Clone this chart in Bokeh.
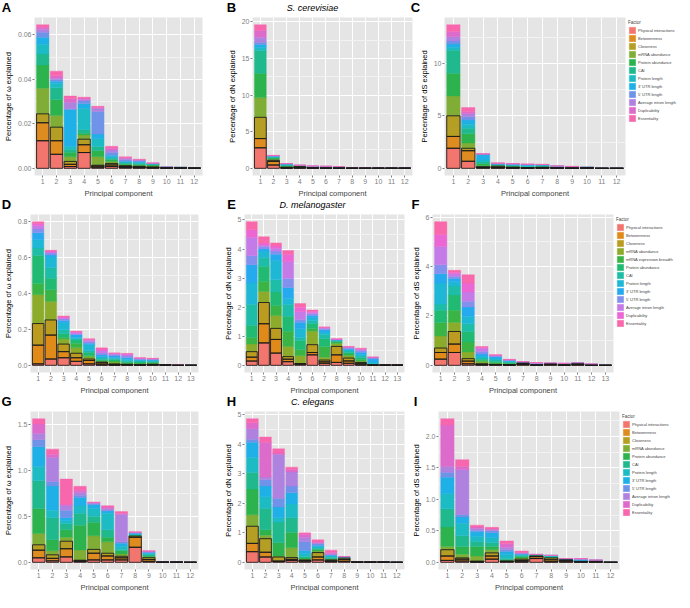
from bokeh.plotting import figure
from bokeh.layouts import row, column
from bokeh.models import (Range1d, FixedTicker, Legend, LegendItem, Title,
                          ColumnDataSource)
from bokeh.core.properties import value
from bokeh.embed import file_html
from bokeh.resources import INLINE

FACTORS_12 = ["Physical interactions", "Betweenness", "Closeness", "mRNA abundance",
              "Protein abundance", "CAI", "Protein length", "3' UTR length",
              "5' UTR length", "Average intron length", "Duplicability", "Essentiality"]
FACTORS_13 = ["Physical interactions", "Betweenness", "Closeness", "mRNA abundance",
              "mRNA expression breadth", "Protein abundance", "CAI", "Protein length",
              "3' UTR length", "5' UTR length", "Average intron length", "Duplicability",
              "Essentiality"]
COLORS_12 = ["#F2766E", "#DE8B1F", "#B59E24", "#80AD35", "#2DB34E", "#1FB98D",
             "#1DBBC4", "#1EB0E6", "#6E93E8", "#AF82E0", "#DD6BCB", "#F867AE"]
COLORS_13 = ["#F2766E", "#E08A1A", "#BC9C20", "#8CAB2A", "#3AB545", "#20BA72",
             "#1DBDA8", "#1EB8D6", "#25AAF0", "#8391EE", "#C47BE8", "#EC66D4", "#F968AA"]

# ---- S. cerevisiae (12 factors, one row per principal component) ----
omega_sc = [
    [.0124, .0081, .0040, .0115, .0105, .0049, .0044, .0031, .0023, .0014, .0008, .0012],
    [.0063, .0061, .0061, .0053, .0072, .0052, .0019, .0011, .0007, .0006, .0011, .0021],
    [.0008, .0010, .0013, .0021, .0020, .0014, .0013, .0164, .0006, .0028, .0016, .0012],
    [.0071, .0035, .0025, .0019, .0008, .0016, .0095, .0021, .0013, .0007, .0006, .0004],
    [.0005, .0005, .0004, .0038, .0027, .0018, .0036, .0021, .0102, .0013, .0006, .0004],
    [.0008, .0007, .0007, .0009, .0007, .0007, .0007, .0007, .0013, .0010, .0008, .0009],
    [.0004, .0004, .0004, .0004, .0004, .0004, .0004, .0004, .0006, .0006, .0004, .0004],
    [.0003, .0003, .0003, .0004, .0004, .0005, .0005, .0004, .0003, .0003, .0002, .0002],
    [.0002, .0002, .0002, .0004, .0005, .0003, .0002, .0001, .0001, .0001, .0001, 0],
    [.0001, .0001, .0001, .0001, .0001, 0, 0, 0, 0, 0, 0, 0],
    [.0001, .0001, .0001, .0001, 0, 0, 0, 0, 0, 0, 0, 0],
    [.00005, .00005, .00005, .00005, 0, 0, 0, 0, 0, 0, 0, 0],
]
dn_sc = [
    [2.8, 1.26, 2.9, 2.69, 3.31, 3.11, .43, .4, .3, .7, .9, .8],
    [.45, .5, .15, .15, .15, .12, .08, .05, .04, .03, .03, .03],
    [.03, .05, .08, .05, .15, .1, .05, .08, .03, .02, .01, .01],
    [.05, .08, .1, .05, .04, .03, .03, .02, .01, .01, .01, .02],
    [.02, .03, .05, .03, .03, .03, .03, .03, .04, .02, .01, .01],
    [.01, .02, .03, .02, .02, .04, .05, .04, .03, .01, .01, .01],
    [.01, .02, .02, .02, .02, .03, .03, .02, .03, .03, .01, .01],
    [.01, .01, .01, .01, .01, .01, .01, .01, .01, .01, .01, .01],
    [.01, .01, .01, .01, .01, .01, .01, .01, 0, 0, 0, 0],
    [.01, .01, .01, .01, 0, 0, 0, 0, 0, 0, 0, 0],
    [.01, .01, .01, .01, 0, 0, 0, 0, 0, 0, 0, 0],
    [.01, .01, .01, .01, 0, 0, 0, 0, 0, 0, 0, 0],
]
ds_sc = [
    [1.91, 1.13, 1.97, 1.89, 2.17, 2.18, .3, .3, .3, .4, .5, .65],
    [.67, 1.01, .23, .5, .9, .5, .4, .4, .3, .3, .2, .39],
    [.05, .05, .05, .1, .2, .15, .2, .5, .05, .02, .01, .01],
    [.05, .05, .1, .05, .05, .04, .04, .04, .03, .02, .02, .03],
    [.03, .03, .05, .05, .05, .05, .05, .05, .05, .02, .02, .01],
    [.02, .02, .02, .03, .03, .05, .1, .05, .04, .02, .02, .01],
    [.02, .04, .04, .02, .02, .1, .05, .04, .02, .01, .01, .01],
    [.02, .02, .02, .02, .03, .05, .03, .01, .01, .01, .005, .005],
    [.01, .01, .01, .01, .01, .02, .02, .02, .02, .03, .02, .01],
    [.02, .02, .02, .01, .01, .01, 0, 0, 0, 0, 0, 0],
    [0, 0, 0, 0, 0, 0, 0, 0, 0, 0, 0, 0],
    [0, 0, 0, 0, 0, 0, 0, 0, 0, 0, 0, 0],
]

# ---- D. melanogaster (13 factors) ----
omega_dm = [
    [.008, .104, .12, .16, .062, .156, .042, .045, .039, .022, .017, .013, .010],
    [.035, .133, .084, .103, .065, .064, .059, .059, .011, .011, .006, .005, .004],
    [.042, .034, .042, .027, .011, .02, .022, .039, .012, .008, .007, .005, .005],
    [.022, .02, .025, .03, .026, .017, .008, .008, .014, .006, .005, .006, .003],
    [.008, .019, .008, .012, .008, .017, .009, .033, .009, .008, .008, .005, .004],
    [.003, .01, .005, .004, .004, .006, .008, .008, .01, .01, .012, .01, .007],
    [.002, .002, .004, .01, .006, .008, .006, .006, .008, .008, .005, .002, .002],
    [.002, .002, .002, .004, .004, .006, .006, .008, .008, .01, .008, .004, .002],
    [.001, .001, .003, .004, .004, .006, .005, .004, .004, .004, .003, .002, .001],
    [.002, .002, .002, .004, .004, .005, .004, .004, .004, .003, .002, .002, .001],
    [.001, .001, .001, .001, 0, 0, 0, 0, 0, 0, 0, 0, 0],
    [0, 0, 0, 0, 0, 0, 0, 0, .0015, .0015, 0, 0, 0],
    [0, 0, 0, 0, 0, 0, 0, 0, 0, 0, 0, 0, 0],
]
dn_dm = [
    [.146, .134, .19, .26, .23, .42, .72, .73, .63, .31, .63, .26, .28],
    [.77, .66, .73, .38, .35, .52, .31, .21, .07, .08, .06, .07, .21],
    [.42, .47, .38, .44, .34, .47, .42, .67, .21, .11, .1, .07, .11],
    [.125, .085, .09, .35, .52, .52, .41, .21, .37, .31, .57, .26, .13],
    [.04, .01, .01, .27, .21, .31, .11, .31, .21, .1, .26, .16, .125],
    [.36, .08, .27, .46, .1, .16, .1, .11, .07, .06, .05, .04, .04],
    [.07, .05, .06, .1, .37, .26, .15, .09, .07, .05, .02, .02, .01],
    [.1, .26, .29, .1, .05, .03, .02, .01, .015, .01, .01, .01, .005],
    [.07, .08, .10, .08, .06, .05, .05, .05, .03, .03, .02, .02, .01],
    [.02, .05, .03, .04, .06, .06, .06, .06, .07, .06, .03, .03, .02],
    [.005, .005, .005, .01, .01, .01, .02, .05, .1, .05, .01, .005, .005],
    [.005, .005, .005, .005, 0, 0, 0, 0, 0, 0, 0, 0, 0],
    [.005, .005, .005, .005, 0, 0, 0, 0, 0, 0, 0, 0, 0],
]
ds_dm = [
    [.25, .27, .18, .49, .55, .49, .25, .86, .37, .36, .74, .49, .52],
    [.52, .34, .51, .37, .49, .62, .36, .19, .12, .09, .1, .06, .08],
    [.06, .11, .1, .27, .4, .43, .31, .31, .37, .24, .37, .37, .33],
    [.02, .02, .02, .08, .06, .05, .05, .08, .08, .1, .12, .05, .03],
    [.02, .01, .01, .03, .04, .05, .06, .08, .05, .03, .02, .02, .01],
    [.01, .01, .01, .02, .03, .03, .03, .04, .02, .01, .01, .015, .01],
    [.03, .04, .02, .01, .005, .005, .005, .005, .005, .005, .005, .005, .005],
    [.005, .005, .005, .005, .005, .01, .01, .01, .01, .02, .01, .01, .005],
    [.02, .02, .01, .005, .005, .005, .005, .005, .005, .005, .005, 0, 0],
    [.005, .005, .005, .01, .01, .01, .01, .01, .005, .005, .005, 0, 0],
    [.02, .02, .02, .01, .01, .005, .005, 0, 0, 0, 0, 0, 0],
    [0, 0, 0, .005, .005, .005, .01, .01, .01, .005, 0, 0, 0],
    [0, 0, 0, 0, 0, 0, 0, 0, 0, 0, 0, 0, 0],
]

# ---- C. elegans (12 factors) ----
omega_ce = [
    [.049, .083, .059, .122, .273, .302, .158, .214, .076, .072, .099, .059],
    [.016, .027, .039, .043, .122, .24, .082, .263, .05, .263, .033, .056],
    [.059, .089, .082, .043, .082, .066, .033, .033, .082, .049, .017, .273],
    [.01, .006, .007, .112, .27, .13, .08, .09, .025, .03, .025, .044],
    [.026, .073, .042, .148, .149, .065, .083, .042, .013, .007, .004, .006],
    [.026, .043, .03, .125, .049, .082, .181, .023, .01, .017, .016, .016],
    [.026, .023, .017, .026, .033, .016, .033, .033, .017, .296, .016, .017],
    [.164, .109, .013, .007, .003, .003, .007, .01, .006, .004, .003, .003],
    [.01, .02, .02, .01, .01, .015, .01, .01, .01, .005, .003, .002],
    [.001, .001, .001, .001, .001, 0, 0, 0, 0, 0, 0, 0],
    [.001, .001, .001, .001, .001, 0, 0, 0, 0, 0, 0, 0],
    [0, 0, 0, 0, 0, 0, 0, 0, 0, 0, 0, 0],
]
dn_ce = [
    [.36, .28, .58, .39, .87, .56, .51, .51, .1, .36, .2, .14],
    [.18, .16, .46, .12, .18, .72, .4, .36, .21, .1, 1.17, .18],
    [.03, .01, .14, .03, .45, .7, .15, .36, .3, 1.48, .05, .14],
    [.06, .04, .06, .33, .53, .49, .46, .38, .23, .48, .08, .08],
    [.04, .02, .02, .03, .04, .05, .1, .1, .3, .15, .1, .05],
    [.08, .1, .15, .05, .05, .05, .05, .05, .05, .03, .03, .07],
    [.03, .02, .03, .02, .02, .05, .04, .03, .02, .03, .05, .07],
    [.03, .06, .05, .01, .01, .01, .005, .005, .005, .005, 0, 0],
    [.005, .005, .005, .005, 0, 0, 0, 0, 0, 0, 0, 0],
    [.005, .005, .005, .005, 0, 0, 0, 0, 0, 0, 0, 0],
    [.005, .005, .005, .005, 0, 0, 0, 0, 0, 0, 0, 0],
    [0, 0, 0, 0, 0, 0, 0, 0, 0, 0, 0, 0],
]
ds_ce = [
    [.03, .07, .10, .05, .31, .29, .24, .26, .08, .09, .66, .10],
    [.02, .03, .02, .06, .12, .17, .2, .1, .04, .71, .05, .11],
    [.005, .005, .01, .08, .15, .08, .08, .08, .02, .03, .02, .03],
    [.05, .05, .05, .05, .05, .06, .08, .08, .03, .02, .01, .025],
    [.01, .005, .005, .01, .01, .02, .06, .05, .03, .04, .06, .04],
    [.01, .02, .02, .02, .02, .02, .01, .01, .01, .01, .005, .025],
    [.06, .03, .01, .005, .005, .005, .005, 0, .005, 0, 0, 0],
    [.01, .03, .03, .005, .005, .01, .01, .01, 0, 0, 0, 0],
    [.01, .02, .01, .005, .005, 0, 0, 0, .005, .005, 0, 0],
    [.005, .005, .005, 0, 0, .01, 0, .01, .01, .015, 0, 0],
    [.005, .005, .005, 0, 0, 0, .01, .01, 0, 0, 0, 0],
    [0, 0, 0, 0, 0, 0, 0, 0, 0, 0, 0, 0],
]

# y tick values and their labels per panel
ticks_A, labels_A = [0, 0.02, 0.04, 0.06], ["0.00", "0.02", "0.04", "0.06"]
ticks_B, labels_B = [0, 5, 10, 15, 20], ["0", "5", "10", "15", "20"]
ticks_C, labels_C = [0, 5, 10], ["0", "5", "10"]
ticks_D, labels_D = [0, 0.2, 0.4, 0.6, 0.8], ["0.0", "0.2", "0.4", "0.6", "0.8"]
ticks_E, labels_E = [0, 1, 2, 3, 4, 5], ["0", "1", "2", "3", "4", "5"]
ticks_F, labels_F = [0, 2, 4, 6], ["0", "2", "4", "6"]
ticks_G, labels_G = [0, 0.5, 1.0, 1.5], ["0.0", "0.5", "1.0", "1.5"]
ticks_H, labels_H = [0, 1, 2, 3, 4, 5], ["0", "1", "2", "3", "4", "5"]
ticks_I, labels_I = [0, 0.5, 1.0, 1.5, 2.0], ["0.0", "0.5", "1.0", "1.5", "2.0"]

PANEL_LETTERS = [["A", "B", "C"], ["D", "E", "F"], ["G", "H", "I"]]
SPECIES = ["S. cerevisiae", "D. melanogaster", "C. elegans"]
YLAB_W = "Percentage of \u03c9 explained"
YLAB_N = "Percentage of dN explained"
YLAB_S = "Percentage of dS explained"
XLAB = "Principal component"
FONT = "Liberation Sans"

TOTAL_W = 674
HEAD_H = 14
FRAME_H = 158
COLS = [dict(fw=168, bl=28, br=22), dict(fw=160, bl=24, br=4), dict(fw=181, bl=24, br=2)]
LETTER_CX = [6, 231, 415]     # page x of the centres of the panel letters
SPECIES_CX = 312              # page x of the centre of the species name


def header(ri):
    h = figure(width=TOTAL_W, height=HEAD_H, x_range=Range1d(0, TOTAL_W),
               y_range=Range1d(0, HEAD_H), output_backend="svg", title=None,
               toolbar_location=None, x_axis_location=None, y_axis_location=None,
               min_border=0, min_border_left=0, min_border_right=0,
               min_border_top=0, min_border_bottom=0)
    h.grid.visible = False
    h.outline_line_color = None
    h.text(x=LETTER_CX, y=[HEAD_H / 2] * 3, text=PANEL_LETTERS[ri],
           text_font=value(FONT), text_font_style="bold", text_font_size="13px",
           text_align="center", text_baseline="middle", text_color="black")
    h.text(x=[SPECIES_CX], y=[HEAD_H / 2], text=[SPECIES[ri]], text_font=value(FONT),
           text_font_style="italic", text_font_size="9px", text_align="center",
           text_baseline="middle", text_color="black")
    return h


def panel(vals, factors, colors, ticks, tlabels, ylabel, ci, legend=False):
    c = COLS[ci]
    n = len(vals)
    data = {"pc": list(range(1, n + 1))}
    for j, f in enumerate(factors):
        data[f] = [bar[j] for bar in vals]
    src = ColumnDataSource(data)
    ymax = max(sum(b) for b in vals)
    p = figure(frame_width=c["fw"], frame_height=FRAME_H,
               x_range=Range1d(0.4, n + 0.6),
               y_range=Range1d(-0.05 * ymax, 1.05 * ymax),
               output_backend="svg", toolbar_location=None, title=None,
               min_border_left=c["bl"], min_border_right=c["br"],
               min_border_top=3, min_border_bottom=2)
    p.background_fill_color = "#E5E5E5"
    p.outline_line_color = None
    rs = p.vbar_stack(factors, x="pc", width=0.9, source=src,
                      fill_color=colors, line_color=colors, line_width=0.4)
    p.vbar_stack(factors[:3], x="pc", width=0.9, source=src,
                 fill_color=None, line_color="#1c1c1c", line_width=0.9)
    step = ticks[1] - ticks[0]
    minors = [t + step / 2 for t in ticks] + [ticks[0] - step / 2]
    p.yaxis.ticker = FixedTicker(ticks=ticks, minor_ticks=minors)
    p.yaxis.major_label_overrides = {t: l for t, l in zip(ticks, tlabels)}
    p.xaxis.ticker = FixedTicker(ticks=list(range(1, n + 1)))
    p.xgrid.grid_line_color = "white"
    p.ygrid.grid_line_color = "white"
    p.ygrid.minor_grid_line_color = "#F2F2F2"
    p.yaxis.axis_label = ylabel
    for ax in (p.xaxis, p.yaxis):
        ax.axis_line_color = None
        ax.major_tick_line_color = "#7F7F7F"
        ax.major_tick_out = 2
        ax.major_tick_in = 0
        ax.minor_tick_out = 0
        ax.minor_tick_in = 0
        ax.major_label_text_color = "#7F7F7F"
        ax.major_label_text_font_size = "7px"
        ax.major_label_text_font = FONT
        ax.major_label_standoff = 1
        ax.axis_label_text_font_size = "7.5px"
        ax.axis_label_text_font_style = "normal"
        ax.axis_label_text_font = FONT
        ax.axis_label_text_color = "black"
        ax.axis_label_standoff = 2
    p.add_layout(Title(text=XLAB, align="center", standoff=0, text_font=FONT,
                       text_font_size="7.5px", text_font_style="normal"), "below")
    if legend:
        items = [LegendItem(label=f, renderers=[rr]) for f, rr in zip(factors, rs)]
        lg = Legend(items=items, title="Factor", location="top_left")
        lg.title_text_font_size = "4.5px"
        lg.title_text_font_style = "normal"
        lg.title_text_font = FONT
        lg.title_standoff = 1
        lg.label_text_font_size = "4px"
        lg.label_text_font = FONT
        lg.label_height = 8
        lg.label_standoff = 2
        lg.glyph_width = 8
        lg.glyph_height = 8
        lg.spacing = 0
        lg.padding = 0
        lg.margin = 3
        lg.border_line_color = None
        lg.background_fill_alpha = 0
        p.add_layout(lg, "right")
    return p


pA = panel(omega_sc, FACTORS_12, COLORS_12, ticks_A, labels_A, YLAB_W, 0)
pB = panel(dn_sc, FACTORS_12, COLORS_12, ticks_B, labels_B, YLAB_N, 1)
pC = panel(ds_sc, FACTORS_12, COLORS_12, ticks_C, labels_C, YLAB_S, 2, legend=True)
pD = panel(omega_dm, FACTORS_13, COLORS_13, ticks_D, labels_D, YLAB_W, 0)
pE = panel(dn_dm, FACTORS_13, COLORS_13, ticks_E, labels_E, YLAB_N, 1)
pF = panel(ds_dm, FACTORS_13, COLORS_13, ticks_F, labels_F, YLAB_S, 2, legend=True)
pG = panel(omega_ce, FACTORS_12, COLORS_12, ticks_G, labels_G, YLAB_W, 0)
pH = panel(dn_ce, FACTORS_12, COLORS_12, ticks_H, labels_H, YLAB_N, 1)
pI = panel(ds_ce, FACTORS_12, COLORS_12, ticks_I, labels_I, YLAB_S, 2, legend=True)

layout = column(header(0), row(pA, pB, pC),
                header(1), row(pD, pE, pF),
                header(2), row(pG, pH, pI))
open("out.html", "w").write(file_html(layout, INLINE))
